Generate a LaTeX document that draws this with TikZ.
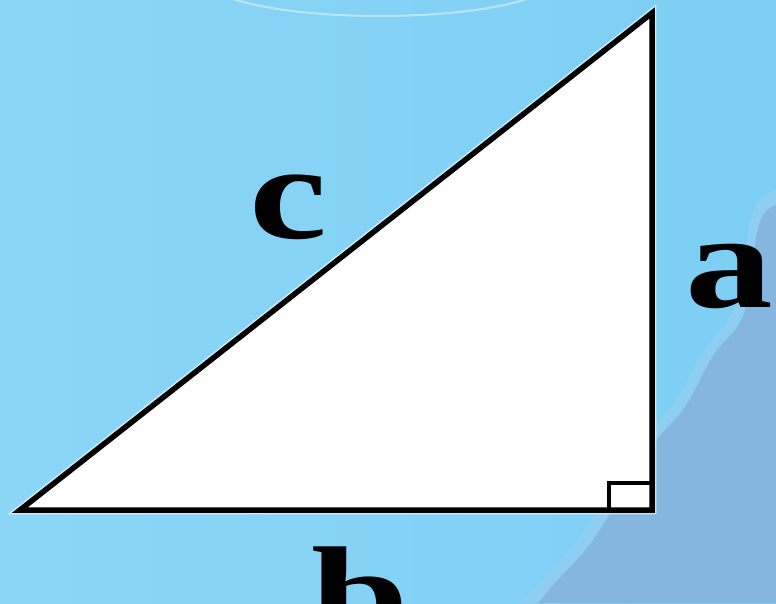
\documentclass[tikz,border=0pt]{standalone}
\usepackage{fontspec}
\setmainfont{Liberation Serif}
\definecolor{bgleft}{RGB}{140,214,246}
\definecolor{bgmid}{RGB}{124,206,244}
\definecolor{bgblob}{RGB}{132,182,224}
\definecolor{bgblobedge}{RGB}{150,206,242}
\newcommand{\widelbl}[1]{\scalebox{1.3}[1]{#1}}
\begin{document}
\begin{tikzpicture}[x=1pt,y=-1pt,
  side/.style={draw=black,line width=5.5pt,line join=miter,miter limit=10},
  halo/.style={draw=white,line width=8.5pt,opacity=0.6,line join=miter},
  lbl/.style={inner sep=0pt,font=\bfseries\fontsize{135}{135}\selectfont}]
\useasboundingbox (0,0) rectangle (776,603);
\clip (0,0) rectangle (776,603);
% background
\shade[left color=bgleft,right color=bgmid] (0,0) rectangle (776,603);
\fill[bgblobedge,opacity=0.7] (776,190) .. controls (730,200) and (760,290) .. (720,330)
  .. controls (690,360) and (690,390) .. (660,420)
  .. controls (620,460) and (600,520) .. (560,560)
  .. controls (540,580) and (530,595) .. (520,603) -- (776,603) -- cycle;
\fill[bgblob] (776,205) .. controls (740,215) and (768,300) .. (728,338)
  .. controls (700,365) and (700,395) .. (670,425)
  .. controls (630,465) and (612,525) .. (572,565)
  .. controls (555,582) and (545,595) .. (538,603) -- (776,603) -- cycle;
\draw[white,opacity=0.45,line width=2pt] (230,-2) .. controls (300,22) and (460,22) .. (530,-2);
% triangle
\coordinate (A) at (20,510);
\coordinate (C) at (652,510);
\coordinate (B) at (652,13);
\draw[halo] (A) -- (C) -- (B) -- cycle;
\filldraw[fill=white,side] (A) -- (C) -- (B) -- cycle;
\coordinate (R1) at (609,510);
\coordinate (R2) at (609,483);
\coordinate (R3) at (652,483);
\draw[black,line width=3.5pt] (R1) -- (R2) -- (R3);
% labels
\node[lbl,anchor=center] (c) at (288,207) {\widelbl{c}};
\node[lbl,anchor=center] (a) at (729,276) {\widelbl{a}};
\node[lbl,anchor=base] (b) at (360,640) {\widelbl{b}};
\end{tikzpicture}
\end{document}
